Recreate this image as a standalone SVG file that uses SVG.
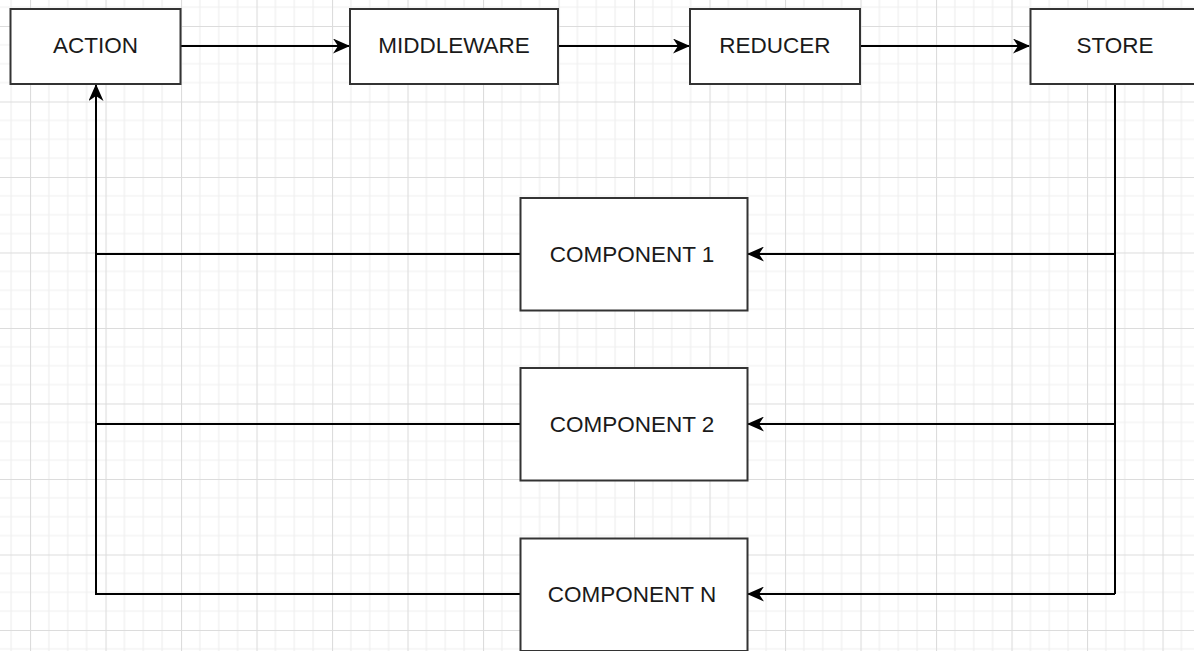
<svg xmlns="http://www.w3.org/2000/svg" width="1194" height="651" viewBox="0 0 1194 651">
  <style>
    .box { fill: #ffffff; stroke: #333333; stroke-width: 2; }
    .label { font-family: "Liberation Sans", Arial, sans-serif; font-size: 22.5px; fill: #1a1a1a; text-anchor: middle; }
    .wire { fill: none; stroke: #000000; stroke-width: 2; }
    .arrowed { marker-end: url(#arrow); }
  </style>
  <defs>
    <pattern id="grid" patternUnits="userSpaceOnUse" x="30" y="26" width="75.5" height="75.5">
      <path d="M18.875 0V75.5M37.75 0V75.5M56.625 0V75.5M0 18.875H75.5M0 37.75H75.5M0 56.625H75.5" stroke="#efefef" stroke-width="1.2" fill="none"/>
      <path d="M0.5 0V75.5M0 0.5H75.5" stroke="#dcdcdc" stroke-width="1.2" fill="none"/>
    </pattern>
    <marker id="arrow" viewBox="0 0 17 15" refX="16" refY="7.5" markerWidth="17" markerHeight="15" markerUnits="userSpaceOnUse" orient="auto">
      <path d="M0 0L17 7.5L0 15L5 7.5Z" fill="#000000"/>
    </marker>
  </defs>

  <!-- canvas with background grid -->
  <rect width="1194" height="651" fill="#ffffff"/>
  <rect width="1194" height="651" fill="url(#grid)"/>

  <!-- connectors -->
  <g id="connectors">
    <path class="wire arrowed" d="M181 46H349"/>
    <path class="wire arrowed" d="M558 46H689"/>
    <path class="wire arrowed" d="M860 46H1029"/>
    <path class="wire" d="M1115 84V594"/>
    <path class="wire arrowed" d="M1115 254H748"/>
    <path class="wire arrowed" d="M1115 424H748"/>
    <path class="wire arrowed" d="M1115 594H748"/>
    <path class="wire" d="M520 254H96"/>
    <path class="wire" d="M520 424H96"/>
    <path class="wire arrowed" d="M520 594H96V85"/>
  </g>

  <!-- nodes -->
  <g id="action">
    <rect class="box" x="10.5" y="9" width="170" height="75"/>
    <text class="label" x="95.5" y="53">ACTION</text>
  </g>
  <g id="middleware">
    <rect class="box" x="350" y="9" width="208" height="75"/>
    <text class="label" x="454" y="53">MIDDLEWARE</text>
  </g>
  <g id="reducer">
    <rect class="box" x="690" y="9" width="170" height="75"/>
    <text class="label" x="775" y="53">REDUCER</text>
  </g>
  <g id="store">
    <rect class="box" x="1030.5" y="9" width="170" height="75"/>
    <text class="label" x="1115" y="53">STORE</text>
  </g>
  <g id="component-1">
    <rect class="box" x="520.5" y="198" width="227" height="112.5"/>
    <text class="label" x="632" y="262">COMPONENT 1</text>
  </g>
  <g id="component-2">
    <rect class="box" x="520.5" y="368" width="227" height="112.5"/>
    <text class="label" x="632" y="432">COMPONENT 2</text>
  </g>
  <g id="component-n">
    <rect class="box" x="520.5" y="538.5" width="227" height="112.5"/>
    <text class="label" x="632" y="602">COMPONENT N</text>
  </g>
</svg>
